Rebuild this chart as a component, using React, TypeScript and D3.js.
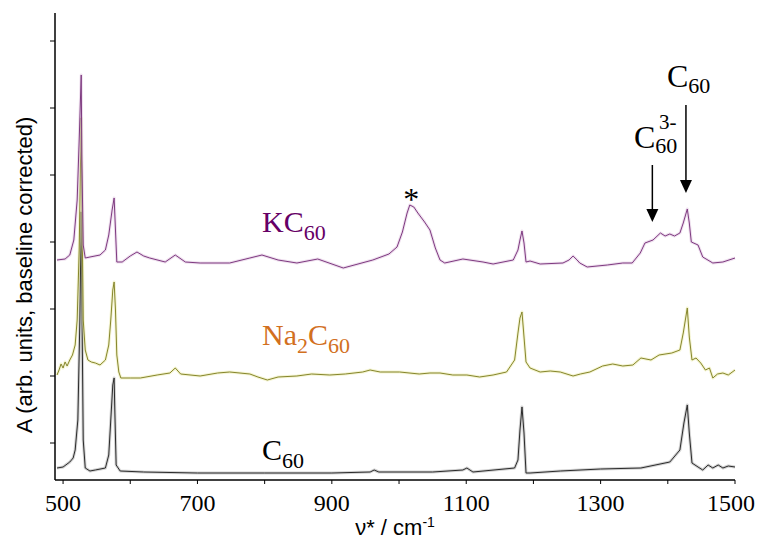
import * as d3 from 'd3'

// wavenumber (cm-1) / absorbance (arb.) pairs
const KC60_WN = [491, 503, 510, 516, 521, 524, 527, 528, 530, 533, 540, 555, 563, 568, 573, 576, 578, 580, 588, 600, 610, 620, 629, 652, 667, 682, 704, 748, 778, 796, 820, 848, 879, 917, 961, 985, 997, 1005, 1012, 1016, 1022, 1028, 1038, 1046, 1054, 1061, 1068, 1095, 1125, 1140, 1170, 1177, 1180, 1183, 1186, 1189, 1195, 1210, 1244, 1253, 1259, 1265, 1269, 1280, 1310, 1333, 1347, 1359, 1366, 1378, 1389, 1396, 1403, 1410, 1418, 1423, 1429, 1432, 1435, 1445, 1452, 1467, 1482, 1500]
const KC60_A = [2.20, 2.21, 2.25, 2.40, 2.80, 3.40, 4.05, 3.20, 2.35, 2.22, 2.23, 2.25, 2.30, 2.45, 2.70, 2.82, 2.50, 2.18, 2.18, 2.24, 2.28, 2.24, 2.22, 2.18, 2.25, 2.18, 2.17, 2.17, 2.22, 2.25, 2.20, 2.17, 2.21, 2.12, 2.20, 2.26, 2.33, 2.48, 2.67, 2.75, 2.73, 2.67, 2.58, 2.50, 2.32, 2.20, 2.17, 2.21, 2.18, 2.16, 2.20, 2.30, 2.40, 2.49, 2.37, 2.18, 2.19, 2.16, 2.17, 2.20, 2.24, 2.20, 2.17, 2.13, 2.15, 2.17, 2.17, 2.27, 2.37, 2.40, 2.47, 2.44, 2.46, 2.44, 2.47, 2.57, 2.71, 2.57, 2.38, 2.35, 2.23, 2.17, 2.18, 2.22]

const NA2C60_WN = [491, 494, 497, 500, 503, 506, 510, 514, 518, 521, 524, 527, 528, 530, 533, 537, 542, 548, 555, 563, 568, 571, 574, 576, 578, 580, 583, 586, 600, 615, 640, 659, 667, 675, 704, 730, 748, 778, 790, 804, 820, 848, 870, 897, 920, 946, 957, 972, 1001, 1030, 1046, 1061, 1080, 1101, 1120, 1140, 1160, 1172, 1177, 1180, 1183, 1186, 1189, 1195, 1210, 1225, 1240, 1259, 1270, 1284, 1303, 1318, 1333, 1348, 1360, 1375, 1387, 1406, 1418, 1423, 1429, 1432, 1436, 1442, 1449, 1456, 1462, 1467, 1474, 1482, 1490, 1500]
const NA2C60_A = [1.05, 1.10, 1.16, 1.12, 1.18, 1.14, 1.20, 1.25, 1.35, 1.60, 2.30, 3.62, 2.80, 1.60, 1.30, 1.20, 1.18, 1.17, 1.15, 1.20, 1.35, 1.60, 1.90, 1.98, 1.70, 1.25, 1.08, 1.02, 1.02, 1.02, 1.05, 1.07, 1.12, 1.06, 1.04, 1.07, 1.08, 1.06, 1.03, 1.00, 1.03, 1.04, 1.06, 1.05, 1.06, 1.08, 1.10, 1.08, 1.08, 1.06, 1.07, 1.07, 1.05, 1.05, 1.03, 1.05, 1.08, 1.20, 1.47, 1.62, 1.68, 1.43, 1.18, 1.12, 1.08, 1.09, 1.08, 1.04, 1.06, 1.08, 1.14, 1.16, 1.14, 1.15, 1.22, 1.20, 1.25, 1.27, 1.30, 1.47, 1.72, 1.43, 1.20, 1.22, 1.17, 1.10, 1.12, 1.02, 1.06, 1.07, 1.05, 1.10]

const C60_WN = [491, 500, 510, 515, 518, 522, 525, 527, 528, 530, 533, 540, 548, 563, 568, 571, 574, 576, 577, 579, 585, 620, 700, 800, 900, 957, 963, 970, 1050, 1095, 1101, 1110, 1172, 1177, 1180, 1183, 1186, 1189, 1195, 1240, 1300, 1360, 1403, 1418, 1424, 1429, 1432, 1436, 1445, 1452, 1460, 1467, 1475, 1482, 1490, 1500]
const C60_A = [0.12, 0.13, 0.18, 0.22, 0.30, 0.60, 1.60, 2.68, 1.80, 0.40, 0.12, 0.09, 0.10, 0.12, 0.25, 0.60, 0.95, 1.02, 0.70, 0.15, 0.09, 0.08, 0.07, 0.07, 0.07, 0.08, 0.10, 0.08, 0.08, 0.10, 0.12, 0.08, 0.12, 0.20, 0.50, 0.73, 0.47, 0.07, 0.07, 0.09, 0.11, 0.12, 0.18, 0.30, 0.57, 0.75, 0.47, 0.17, 0.13, 0.10, 0.15, 0.12, 0.15, 0.12, 0.14, 0.13]

const X_TICKS = [500, 600, 700, 800, 900, 1000, 1100, 1200, 1300, 1400, 1500]
const X_LABELS = [500, 700, 900, 1100, 1300, 1500]
const Y_TICKS = [0.37, 1.04, 1.71, 2.38, 3.05, 3.72, 4.39]

const SERIES = [
  { name: 'C60', wn: C60_WN, a: C60_A, color: '#2b2b2b', halo: '#9a9a9a' },
  { name: 'Na2C60', wn: NA2C60_WN, a: NA2C60_A, color: '#86862c', halo: '#e6e69a' },
  { name: 'KC60', wn: KC60_WN, a: KC60_A, color: '#7e3a80', halo: '#d9b8da' },
]

const W = 757
const H = 543
const serif = '"Liberation Serif", "Times New Roman", serif'
const sans = '"Liberation Sans", Arial, sans-serif'

export default function App() {
  const x = d3.scaleLinear().domain([488, 1500]).range([55, 735])
  const y = d3.scaleLinear().domain([0, 4.67]).range([480, 13])

  const line = d3.line<[number, number]>()
    .x(d => x(d[0]))
    .y(d => y(d[1]))

  return (
    <div>
      <style>{`body{margin:0}`}</style>
      <svg width={W} height={H} style={{ display: 'block', background: '#fff' }}>
        {/* spectra */}
        {SERIES.map(s => {
          const pts = s.wn.map((w, i) => [w, s.a[i]] as [number, number])
          const d = line(pts) || ''
          return (
            <g key={s.name}>
              <path d={d} fill="none" stroke={s.halo} strokeWidth={3} strokeOpacity={0.45} strokeLinejoin="round" />
              <path d={d} fill="none" stroke={s.color} strokeWidth={1} strokeLinejoin="round" />
            </g>
          )
        })}

        {/* axes */}
        <line x1={x(488)} x2={x(488)} y1={y(4.67)} y2={y(0)} stroke="#000" strokeWidth={1.5} />
        <line x1={x(488)} x2={x(1500)} y1={y(0)} y2={y(0)} stroke="#000" strokeWidth={1.5} />
        {Y_TICKS.map(t => (
          <line key={t} x1={x(488) - 5} x2={x(488)} y1={y(t)} y2={y(t)} stroke="#000" strokeWidth={1} />
        ))}
        {X_TICKS.map(t => (
          <line key={t} x1={x(t)} x2={x(t)} y1={y(0)} y2={y(0) + 4} stroke="#000" strokeWidth={1} />
        ))}
        {X_LABELS.map(t => (
          <text key={t} x={Math.min(x(t), W - 26)} y={511} textAnchor="middle" fontFamily={serif} fontSize={24} fill="#000">{t}</text>
        ))}

        {/* axis titles */}
        <text x={395} y={535} textAnchor="middle" fontFamily={sans} fontSize={22} fill="#000">
          ν* / cm<tspan dy={-8} fontSize={14}>-1</tspan>
        </text>
        <text transform="translate(32,275) rotate(-90)" textAnchor="middle" fontFamily={sans} fontSize={22} fill="#000">
          A (arb. units, baseline corrected)
        </text>

        {/* series labels */}
        <text x={262} y={232} fontFamily={serif} fontSize={30} fill="#660066">
          KC<tspan dy={8} fontSize={22}>60</tspan>
        </text>
        <text x={262} y={345} fontFamily={serif} fontSize={30} fill="#d2701e">
          Na<tspan dy={8} fontSize={22}>2</tspan><tspan dy={-8}>C</tspan><tspan dy={8} fontSize={22}>60</tspan>
        </text>
        <text x={262} y={460} fontFamily={serif} fontSize={30} fill="#000">
          C<tspan dy={8} fontSize={22}>60</tspan>
        </text>

        {/* annotations */}
        <text x={x(1018)} y={210} textAnchor="middle" fontFamily={serif} fontSize={32} fill="#000">*</text>
        <text x={667} y={87} fontFamily={serif} fontSize={32} fill="#000">
          C<tspan dy={6} fontSize={22}>60</tspan>
        </text>
        <text x={634} y={148} fontFamily={serif} fontSize={32} fill="#000">
          C<tspan dy={5} fontSize={22}>60</tspan>
        </text>
        <text x={659} y={129} fontFamily={serif} fontSize={21} fill="#000">3-</text>

        <line x1={x(1427)} x2={x(1427)} y1={105} y2={184} stroke="#000" strokeWidth={1.5} />
        <path d={`M${x(1427) - 6},180 L${x(1427) + 6},180 L${x(1427)},193 Z`} fill="#000" />
        <line x1={x(1377)} x2={x(1377)} y1={165} y2={213} stroke="#000" strokeWidth={1.5} />
        <path d={`M${x(1377) - 6},209 L${x(1377) + 6},209 L${x(1377)},222 Z`} fill="#000" />
      </svg>
    </div>
  )
}
